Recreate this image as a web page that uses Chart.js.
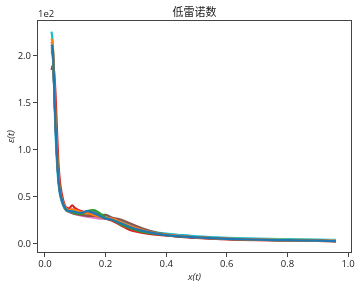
<!DOCTYPE html>
<html>
<head>
<meta charset="utf-8">
<script src="https://cdn.jsdelivr.net/npm/chart.js@4/dist/chart.umd.min.js"></script>
<style>
  html, body { margin: 0; padding: 0; background: #fff; }
</style>
</head>
<body>
<canvas id="myChart" width="360" height="288"></canvas>
<script>
// x(t) positions shared by all runs
const xs = [0.022, 0.026, 0.03, 0.035, 0.04, 0.045, 0.05, 0.06, 0.07, 0.08, 0.09, 0.1, 0.12, 0.14, 0.16, 0.18, 0.2, 0.22, 0.25, 0.28, 0.31, 0.35, 0.4, 0.45, 0.5, 0.6, 0.7, 0.8, 0.9, 0.96];

// eps(t), raw values (axis shows them in units of 1e2)
const blue   = [212, 208, 175, 128, 92, 68, 55, 43, 37, 35, 35, 34, 33, 35, 33, 30, 27, 26, 22, 18, 15, 12, 9.5, 8, 7, 5.5, 4.5, 4, 3.5, 3];
const orange = [218, 212, 180, 135, 98, 72, 57, 44, 38, 36, 37, 36, 34, 33, 31, 29, 27, 27, 23, 19, 16, 12.5, 10, 8.5, 7, 5.5, 4.5, 4, 3.5, 3];
const green  = [205, 200, 172, 130, 96, 70, 56, 43, 36, 35, 34, 33, 32, 35, 36, 33, 28, 26, 21, 17, 14, 11.5, 9.5, 8, 7, 5.5, 4.5, 4, 3.5, 3];
const red    = [185, 190, 185, 160, 120, 85, 65, 47, 39, 38, 41, 38, 35, 33, 31, 29, 27, 25, 20, 15, 12.5, 10.5, 9, 7.5, 6.5, 5, 4.2, 3.8, 3.4, 3];
const purple = [210, 205, 172, 128, 94, 69, 55, 43, 37, 35, 34, 33, 33, 34, 35, 31, 28, 27, 23, 19, 16, 12, 9.5, 8, 7, 5.5, 4.5, 4, 3.5, 3];
const brown  = [208, 203, 174, 130, 95, 70, 56, 44, 37, 35, 33, 32, 31, 30, 30, 30, 31, 28, 26, 22, 18, 13.5, 10, 8, 6.8, 5.3, 4.3, 3.8, 3.3, 2.8];
const pink   = [215, 208, 176, 131, 96, 70, 56, 43, 36, 34, 33, 32, 30, 29, 28, 27, 27, 26, 22, 18, 15, 12, 9.5, 8, 7, 5.5, 4.5, 4, 3.6, 3.2];
const gray   = [212, 206, 174, 129, 94, 69, 55, 42, 36, 34, 33, 32, 31, 30, 29, 28, 27, 26, 22, 18, 15, 12, 9.5, 8, 7, 5.5, 4.6, 4.1, 3.7, 3.3];
const olive  = [214, 210, 182, 138, 102, 74, 58, 44, 37, 35, 34, 33, 32, 31, 30, 29, 28, 27, 23, 19, 15.5, 12, 9.5, 8, 7, 5.8, 5, 4.5, 4, 3.6];
const cyan   = [226, 212, 170, 118, 86, 64, 52, 41, 36, 35, 34, 33, 32, 33, 34, 31, 31, 28, 24, 20, 17, 13.5, 11, 9.5, 8.2, 6.6, 5.6, 5.1, 4.7, 4.4];

const xTicks = [0, 0.2, 0.4, 0.6, 0.8, 1.0];
const yTicks = [0, 50, 100, 150, 200];

const series = [blue, orange, green, red, purple, brown, pink, gray, olive, cyan];
const colors = ["#1f77b4", "#ff7f0e", "#2ca02c", "#d62728", "#9467bd", "#8c564b", "#e377c2", "#7f7f7f", "#bcbd22", "#17becf"];

const datasets = series.map((ys, i) => ({
  data: ys.map((y, j) => ({ x: xs[j], y: y })),
  borderColor: colors[i],
  borderWidth: 2.2,
  pointRadius: 0,
  cubicInterpolationMode: "monotone",
  fill: false,
}));

const tickFont = { family: "Open Sans", size: 9.5 };

// frame, title and offset text like matplotlib
const decor = {
  id: "decor",
  afterDraw(chart) {
    const ctx = chart.ctx;
    const a = chart.chartArea;
    ctx.save();
    ctx.strokeStyle = "#444";
    ctx.lineWidth = 1;
    ctx.strokeRect(a.left + 0.5, a.top + 0.5, a.right - a.left - 1, a.bottom - a.top - 1);
    ctx.fillStyle = "#222";
    ctx.font = "11px 'Noto Sans CJK SC'";
    ctx.textAlign = "center";
    ctx.textBaseline = "middle";
    ctx.fillText("低雷诺数", (a.left + a.right) / 2, 12);
    ctx.font = "9.5px 'Open Sans'";
    ctx.textAlign = "left";
    ctx.textBaseline = "alphabetic";
    ctx.fillText("1e2", a.left + 1, a.top - 3);
    ctx.restore();
  },
};

new Chart("myChart", {
  type: "line",
  data: { datasets: datasets },
  plugins: [decor],
  options: {
    responsive: false,
    animation: false,
    devicePixelRatio: 1,
    layout: { padding: { top: 20, right: 8, left: 0, bottom: 0 } },
    plugins: { legend: { display: false }, tooltip: { enabled: false } },
    scales: {
      x: {
        type: "linear",
        min: -0.026,
        max: 1.013,
        afterBuildTicks: (s) => { s.ticks = xTicks.map((v) => ({ value: v })); },
        afterFit: (s) => { s.height = 35; },
        grid: { drawOnChartArea: false, drawTicks: true, tickLength: 4, color: "#444" },
        border: { display: false },
        ticks: { font: tickFont, color: "#222", padding: 2, maxRotation: 0, callback: (v) => v.toFixed(1) },
        title: { display: true, text: "x(t)", font: { family: "Open Sans", size: 9.5, style: "italic" }, color: "#222", padding: { top: 2, bottom: 5 } },
      },
      y: {
        type: "linear",
        min: -9.6,
        max: 238.3,
        afterBuildTicks: (s) => { s.ticks = yTicks.map((v) => ({ value: v })); },
        afterFit: (s) => { s.width = 37; },
        grid: { drawOnChartArea: false, drawTicks: true, tickLength: 4, color: "#444" },
        border: { display: false },
        ticks: { font: tickFont, color: "#222", padding: 2, callback: (v) => (v / 100).toFixed(1) },
        title: { display: true, text: "ε(t)", font: { family: "Open Sans", size: 9.5, style: "italic" }, color: "#222", padding: { top: 6, bottom: 2 } },
      },
    },
  },
});
</script>
</body>
</html>
